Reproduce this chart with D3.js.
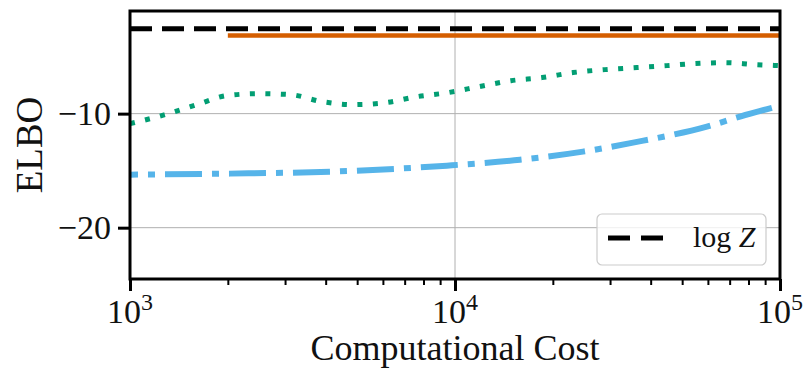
<!DOCTYPE html>
<html>
<head>
<meta charset="utf-8">
<script src="https://cdn.jsdelivr.net/npm/d3@7"></script>
<style>
  body { margin: 0; background: #fff; }
  svg text { font-family: "Liberation Serif", "DejaVu Serif", serif; fill: #111; }
</style>
</head>
<body>
<svg id="chart" width="807" height="369"></svg>
<script>
// values
const xTicks = [1e3, 1e4, 1e5];
const xTickExp = ["3", "4", "5"];
const yTicks = [-10, -20];

const logZ = -2.55;

const costOrange = [2000, 100000];
const elboOrange = [-3.15, -3.15];

const costGreen = [1000, 1281, 1607, 1987, 2477, 3107, 3899, 4856, 6095, 7644, 9506,
  11857, 14870, 18530, 23080, 28950, 36330, 44900, 54730, 67700, 83800, 100000];
const elboGreen = [-10.88, -10.09, -9.21, -8.42, -8.25, -8.33, -8.95, -9.21, -9.04, -8.51, -8.16,
  -7.63, -7.11, -6.84, -6.40, -6.14, -5.96, -5.79, -5.61, -5.53, -5.70, -5.79];

const costBlue = [1000, 2030, 4125, 9440, 15850, 24770, 35320, 59560, 75340, 100000];
const elboBlue = [-15.35, -15.26, -15.09, -14.56, -14.04, -13.33, -12.54, -11.14, -10.26, -9.30];

const svg = d3.select("#chart");
const pl = 130, pr = 780, pt = 11, pb = 279;

const x = d3.scaleLog().domain([1e3, 1e5]).range([pl, pr]);
const y = d3.scaleLinear().domain([-24.5, -1]).range([pb, pt]);

svg.append("clipPath").attr("id", "clip")
  .append("rect").attr("x", pl).attr("y", pt)
  .attr("width", pr - pl).attr("height", pb - pt);

// grid
svg.append("g").selectAll("line").data([1e4]).join("line")
  .attr("x1", d => x(d)).attr("x2", d => x(d))
  .attr("y1", pt).attr("y2", pb)
  .attr("stroke", "#b0b0b0").attr("stroke-width", 1);
svg.append("g").selectAll("line").data(yTicks).join("line")
  .attr("x1", pl).attr("x2", pr)
  .attr("y1", d => y(d)).attr("y2", d => y(d))
  .attr("stroke", "#b0b0b0").attr("stroke-width", 1);

const plot = svg.append("g").attr("clip-path", "url(#clip)");
const line = d3.line().x(d => x(d[0])).y(d => y(d[1])).curve(d3.curveMonotoneX);

// blue dash-dot
plot.append("path")
  .datum(costBlue.map((c, i) => [c, elboBlue[i]]))
  .attr("d", line).attr("fill", "none")
  .attr("stroke", "#56b4e9").attr("stroke-width", 6)
  .attr("stroke-dasharray", "37,10,7,10").attr("stroke-dashoffset", 29);

// green dotted
plot.append("path")
  .datum(costGreen.map((c, i) => [c, elboGreen[i]]))
  .attr("d", line).attr("fill", "none")
  .attr("stroke", "#029e73").attr("stroke-width", 5)
  .attr("stroke-dasharray", "5,10.5");

// orange solid
plot.append("path")
  .datum(costOrange.map((c, i) => [c, elboOrange[i]]))
  .attr("d", line).attr("fill", "none")
  .attr("stroke", "#d55e00").attr("stroke-width", 4.5);

// log Z dashed
plot.append("line")
  .attr("x1", x(1e3)).attr("x2", x(1e5))
  .attr("y1", y(logZ)).attr("y2", y(logZ))
  .attr("stroke", "#000").attr("stroke-width", 5)
  .attr("stroke-dasharray", "22,10");

// axes
const xAxis = svg.append("g").attr("transform", `translate(0,${pb})`)
  .call(d3.axisBottom(x).tickValues(xTicks).tickSize(12).tickFormat(""));
const minor = [];
[1e3, 1e4].forEach(b => { for (let k = 2; k <= 9; k++) minor.push(b * k); });
const xMinor = svg.append("g").attr("transform", `translate(0,${pb})`)
  .call(d3.axisBottom(x).tickValues(minor).tickSize(6).tickFormat(""));
const yAxis = svg.append("g").attr("transform", `translate(${pl},0)`)
  .call(d3.axisLeft(y).tickValues(yTicks).tickSize(12).tickPadding(7)
    .tickFormat(d => "\u2212" + Math.abs(d)));

[xAxis, xMinor, yAxis].forEach(g => {
  g.select(".domain").remove();
  g.selectAll(".tick line").attr("stroke", "#000");
});
xAxis.selectAll(".tick line").attr("stroke-width", 3);
yAxis.selectAll(".tick line").attr("stroke-width", 3);
xMinor.selectAll(".tick line").attr("stroke-width", 2);
yAxis.selectAll("text").attr("font-size", 34).attr("fill", "#111")
  .style("font-family", '"Liberation Serif", serif');

// x tick labels 10^n
xTicks.forEach((v, i) => {
  const t = svg.append("text").attr("x", x(v)).attr("y", 323)
    .attr("text-anchor", "middle").attr("font-size", 34);
  t.append("tspan").text("10");
  t.append("tspan").attr("dy", -13).attr("font-size", 24).text(xTickExp[i]);
});

// frame
svg.append("rect").attr("x", pl).attr("y", pt)
  .attr("width", pr - pl).attr("height", pb - pt)
  .attr("fill", "none").attr("stroke", "#000").attr("stroke-width", 3);

// axis labels
svg.append("text").attr("x", (pl + pr) / 2).attr("y", 360)
  .attr("text-anchor", "middle").attr("font-size", 36).text("Computational Cost");
svg.append("text").attr("transform", `translate(42,${(pt + pb) / 2}) rotate(-90)`)
  .attr("text-anchor", "middle").attr("font-size", 37).text("ELBO");

// legend
const lg = svg.append("g");
lg.append("rect").attr("x", 597).attr("y", 214).attr("width", 169).attr("height", 51)
  .attr("rx", 5).attr("fill", "#fff").attr("fill-opacity", 0.8)
  .attr("stroke", "#cccccc").attr("stroke-width", 1.2);
lg.append("line").attr("x1", 608).attr("x2", 663).attr("y1", 238).attr("y2", 238)
  .attr("stroke", "#000").attr("stroke-width", 5).attr("stroke-dasharray", "22,11");
const lt = lg.append("text").attr("x", 693).attr("y", 247).attr("font-size", 30);
lt.append("tspan").text("log ");
lt.append("tspan").attr("font-style", "italic").text("Z");
</script>
</body>
</html>
